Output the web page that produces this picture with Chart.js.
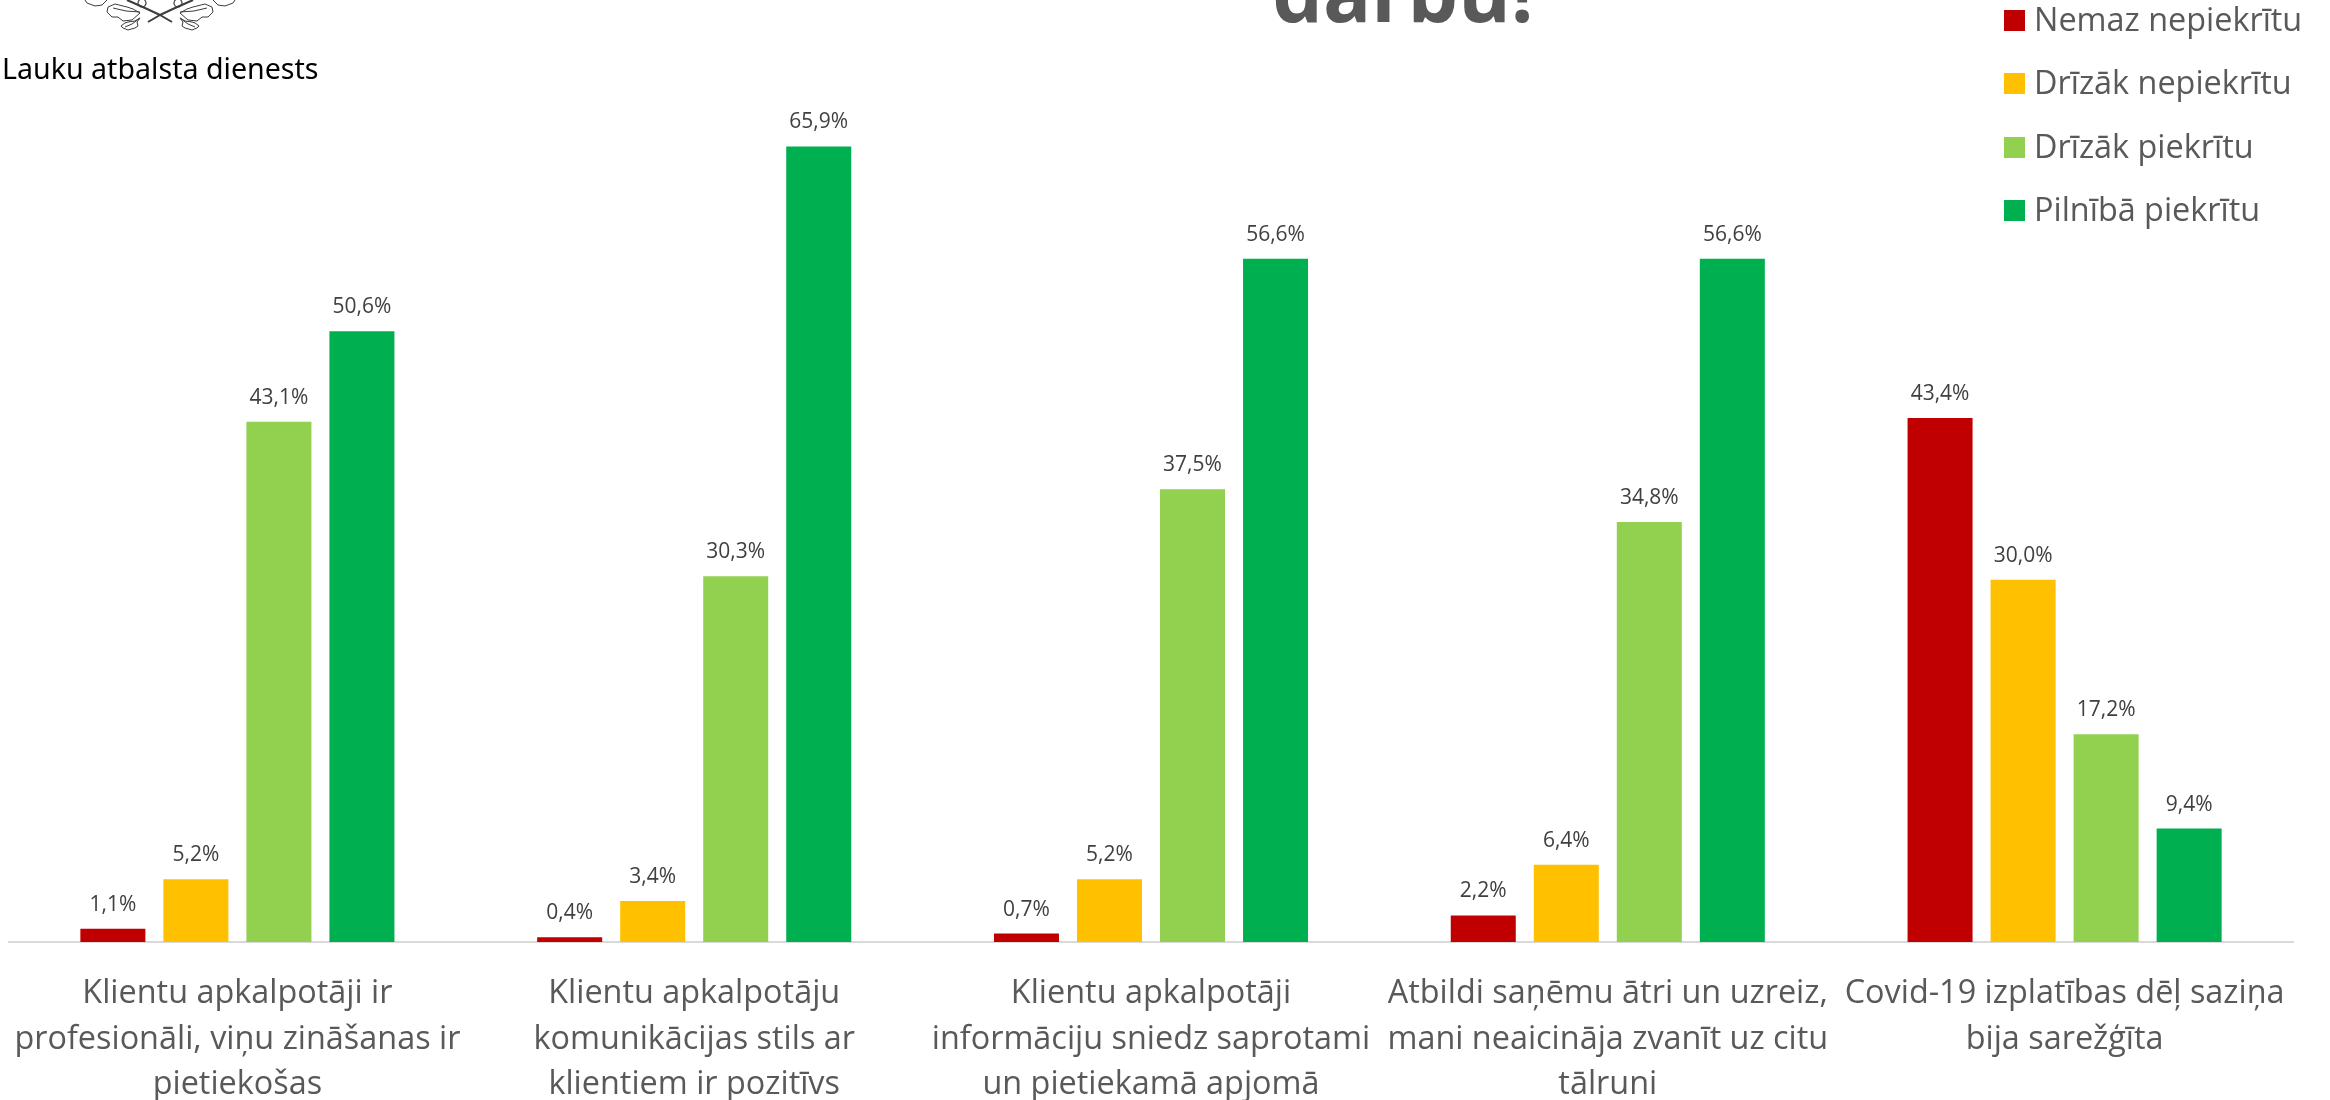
<!DOCTYPE html>
<html lang="lv">
<head>
<meta charset="utf-8">
<title>Klientu apkalpošanas vērtējums</title>
<style>html,body{margin:0;padding:0;background:#fff;overflow:hidden}canvas{display:block}</style>
<script src="https://cdn.jsdelivr.net/npm/chart.js@4"></script>
</head>
<body>
<canvas id="c" width="2330" height="1100"></canvas>
<script>
const categories = [
  ["Klientu apkalpotāji ir", "profesionāli, viņu zināšanas ir", "pietiekošas"],
  ["Klientu apkalpotāju", "komunikācijas stils ar", "klientiem ir pozitīvs"],
  ["Klientu apkalpotāji", "informāciju sniedz saprotami", "un pietiekamā apjomā"],
  ["Atbildi saņēmu ātri un uzreiz,", "mani neaicināja zvanīt uz citu", "tālruni"],
  ["Covid-19 izplatības dēļ saziņa", "bija sarežģīta"]
];
const nemazNepiekritu = [1.1, 0.4, 0.7, 2.2, 43.4];
const drizakNepiekritu = [5.2, 3.4, 5.2, 6.4, 30.0];
const drizakPiekritu = [43.1, 30.3, 37.5, 34.8, 17.2];
const pilnibaPiekritu = [50.6, 65.9, 56.6, 56.6, 9.4];
const seriesNames = ["Nemaz nepiekrītu", "Drīzāk nepiekrītu", "Drīzāk piekrītu", "Pilnībā piekrītu"];
const seriesColors = ["#C00000", "#FFC000", "#92D050", "#00B050"];
const titleText = "darbu!";
const orgName = "Lauku atbalsta dienests";

const FONT = '"Open Sans", sans-serif';

const leafPaths = [
  [[85,0],[87,3],[95,6],[102,5],[105,2],[107,0]],
  [[115,4],[108,7],[107,12],[112,17],[118,17],[123,21],[132,20],[140,13],[133,9],[127,7],[115,4]],
  [[113,8],[126,11],[140,12]],
  [[140,18],[135,21],[128,22],[125,23],[121,26],[123,28],[128,30],[135,28],[138,26],[137,22],[140,18]],
  [[125,27],[132,24],[140,18]]
];
const stemPaths = [
  [[127,0],[145,8],[160,15],[172,22]]
];
const acorns = [[142, 3, 4]];
const logoPlugin = {
  id: 'logo',
  afterDraw(chart) {
    const ctx = chart.ctx;
    ctx.save();
    ctx.strokeStyle = '#3c3c3c';
    ctx.lineJoin = 'round';
    const trace = (p, m) => {
      ctx.beginPath();
      p.forEach((q, i) => {
        const x = m === 1 ? q[0] : 320 - q[0];
        if (i) ctx.lineTo(x, q[1]); else ctx.moveTo(x, q[1]);
      });
      ctx.stroke();
    };
    [1, -1].forEach(m => {
      ctx.lineWidth = 1;
      leafPaths.forEach(p => trace(p, m));
      ctx.lineWidth = 2;
      stemPaths.forEach(p => trace(p, m));
      ctx.lineWidth = 1.2;
      acorns.forEach(a => {
        ctx.beginPath();
        ctx.arc(m === 1 ? a[0] : 320 - a[0], a[1], a[2], 0, Math.PI * 2);
        ctx.stroke();
      });
    });
    ctx.fillStyle = '#000';
    ctx.font = '28.6px "Noto Sans", sans-serif';
    ctx.textAlign = 'left';
    ctx.textBaseline = 'alphabetic';
    ctx.fillText(orgName, 2, 79);
    ctx.restore();
  }
};

const titlePlugin = {
  id: 'cutTitle',
  afterDraw(chart) {
    const ctx = chart.ctx;
    ctx.save();
    ctx.fillStyle = '#595959';
    ctx.font = 'bold 80px ' + FONT;
    ctx.textAlign = 'center';
    ctx.textBaseline = 'alphabetic';
    ctx.fillText(titleText, 1403, 22);
    ctx.restore();
  }
};

const sideLegend = {
  id: 'sideLegend',
  afterDraw(chart) {
    const ctx = chart.ctx;
    ctx.save();
    ctx.textAlign = 'left';
    ctx.textBaseline = 'alphabetic';
    ctx.font = '32.4px ' + FONT;
    chart.data.datasets.forEach((d, i) => {
      const top = Math.round(10 + i * 63.4);
      ctx.fillStyle = d.backgroundColor;
      ctx.fillRect(2004, top, 21, 21);
      ctx.fillStyle = '#595959';
      ctx.fillText(d.label, 2034, top + 21);
    });
    ctx.restore();
  }
};

const valueLabels = {
  id: 'valueLabels',
  afterDatasetsDraw(chart) {
    const ctx = chart.ctx;
    ctx.save();
    ctx.textAlign = 'center';
    ctx.textBaseline = 'middle';
    ctx.font = '21px ' + FONT;
    ctx.fillStyle = '#404040';
    chart.data.datasets.forEach((d, i) => {
      chart.getDatasetMeta(i).data.forEach((el, j) => {
        ctx.fillText(d.data[j].toFixed(1).replace('.', ',') + '%', el.x, el.y - 24);
      });
    });
    ctx.restore();
  }
};

new Chart(document.getElementById('c'), {
  type: 'bar',
  data: {
    labels: categories,
    datasets: seriesNames.map((n, i) => ({
      label: n,
      data: [nemazNepiekritu, drizakNepiekritu, drizakPiekritu, pilnibaPiekritu][i],
      backgroundColor: seriesColors[i],
      barPercentage: 0.783,
      categoryPercentage: 0.727
    }))
  },
  options: {
    responsive: false,
    animation: false,
    layout: { padding: { left: 9, right: 37, top: 97, bottom: 0 } },
    plugins: { legend: { display: false }, title: { display: false }, tooltip: { enabled: false } },
    scales: {
      x: {
        grid: { display: false, drawTicks: false },
        border: { color: '#D9D9D9', width: 2 },
        afterFit: s => { s.height = 158; s.paddingLeft = 0; s.paddingRight = 0; },
        ticks: {
          autoSkip: false, maxRotation: 0, minRotation: 0, padding: 29,
          color: '#595959',
          font: { family: FONT, size: 32.4, lineHeight: 1.41 }
        }
      },
      y: { display: false, min: 0, max: 70 }
    }
  },
  plugins: [valueLabels, sideLegend, titlePlugin, logoPlugin]
});
</script>
</body>
</html>
